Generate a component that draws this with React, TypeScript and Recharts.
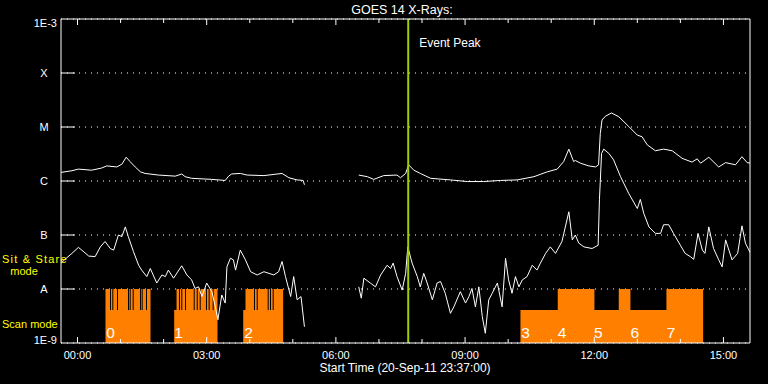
import {
  ComposedChart, Line, Area, Scatter, XAxis, YAxis,
  CartesianGrid, ReferenceLine
} from 'recharts';

const FONT = '"Liberation Sans", Arial, sans-serif';

// hours after 00:00 (21-Sep), plot starts 23:37 the day before
const xDomain = [-23 / 60, 15 + 37 / 60];

// long channel (1-8 A), log10 of flux
const longTimes = [
  -0.38, -0.13, 0.02, 0.33, 0.56, 0.68, 0.91, 1.03, 1.13, 1.22,
  1.34, 1.46, 1.57, 1.88, 2.27, 2.42, 2.50, 2.65, 3.12, 3.43,
  3.51, 3.58, 3.78, 3.94, 4.33, 4.75, 4.91, 5.10, 5.24, 5.27,
  5.9,
  6.53, 6.73, 6.88, 7.11, 7.42, 7.50, 7.62, 7.69, 7.81, 7.96,
  8.20, 8.66, 9.05, 9.43, 9.82, 10.21, 10.60, 10.91, 11.14, 11.29,
  11.41, 11.52, 11.56, 11.68, 11.87, 12.03, 12.10, 12.14, 12.18, 12.26,
  12.40, 12.57, 12.80, 13.00, 13.11, 13.23, 13.42, 13.61, 13.81, 14.04,
  14.27, 14.39, 14.47, 14.66, 14.89, 15.05, 15.28, 15.43, 15.55, 15.63,
];
const longFlux = [
  -5.84, -5.81, -5.78, -5.80, -5.76, -5.72, -5.74, -5.69, -5.56, -5.64,
  -5.74, -5.83, -5.86, -5.89, -5.91, -5.87, -5.92, -5.95, -5.97, -5.99,
  -5.91, -5.87, -5.86, -5.89, -5.90, -5.86, -5.94, -5.98, -5.99, -6.07,
  null,
  -5.89, -5.92, -5.97, -5.90, -5.89, -5.94, -5.86, -5.70, -5.80, -5.86,
  -5.95, -5.98, -6.01, -6.01, -5.99, -5.98, -5.92, -5.83, -5.78, -5.64,
  -5.41, -5.64, -5.62, -5.67, -5.72, -5.74, -5.70, -5.12, -4.87, -4.80,
  -4.74, -4.81, -4.99, -5.15, -5.18, -5.33, -5.44, -5.41, -5.44, -5.58,
  -5.65, -5.59, -5.67, -5.56, -5.74, -5.66, -5.70, -5.55, -5.66, -5.67,
];

// short channel (0.5-4 A), log10 of flux
const shortTimes = [
  -0.38, -0.29, -0.13, 0.02, 0.10, 0.26, 0.41, 0.53, 0.64, 0.76,
  0.84, 0.95, 1.03, 1.11, 1.18, 1.30, 1.42, 1.49, 1.61, 1.69,
  1.84, 1.96, 2.04, 2.11, 2.23, 2.42, 2.54, 2.65, 2.73, 2.81,
  2.89, 3.00, 3.12, 3.20, 3.26, 3.35, 3.43, 3.47, 3.55, 3.62,
  3.67, 3.78, 3.90, 4.02, 4.17, 4.33, 4.56, 4.67, 4.75, 4.83,
  4.95, 5.02, 5.10, 5.19, 5.27,
  5.9,
  6.53, 6.59, 6.65, 6.80, 6.92, 7.04, 7.19, 7.27, 7.33, 7.42,
  7.54, 7.62, 7.67, 7.77, 7.89, 7.96, 8.04, 8.12, 8.24, 8.35,
  8.43, 8.54, 8.66, 8.74, 8.89, 9.01, 9.09, 9.16, 9.24, 9.32,
  9.40, 9.47, 9.55, 9.63, 9.75, 9.86, 9.94, 10.01, 10.09, 10.17,
  10.25, 10.33, 10.44, 10.56, 10.67, 10.75, 10.87, 10.98, 11.10, 11.25,
  11.41, 11.49, 11.56, 11.64, 11.76, 11.95, 12.09, 12.12, 12.17, 12.22,
  12.34, 12.45, 12.61, 12.80, 13.00, 13.07, 13.15, 13.27, 13.42, 13.54,
  13.61, 13.73, 13.84, 14.00, 14.11, 14.23, 14.31, 14.41, 14.51, 14.57,
  14.66, 14.77, 14.89, 14.97, 15.05, 15.20, 15.33, 15.43, 15.51, 15.63,
];
const shortFlux = [
  -7.52, -7.45, -7.34, -7.23, -7.28, -7.39, -7.40, -7.22, -7.12, -7.25,
  -7.28, -7.00, -7.03, -6.85, -7.03, -7.31, -7.56, -7.65, -7.77, -7.62,
  -7.89, -7.74, -7.77, -7.65, -7.80, -7.57, -7.74, -7.83, -7.99, -7.96,
  -8.14, -7.89, -8.05, -8.33, -8.57, -8.11, -8.26, -7.59, -7.43, -7.46,
  -7.65, -7.28, -7.46, -7.68, -7.74, -7.68, -7.74, -7.68, -7.49, -7.77,
  -8.14, -7.77, -8.20, -8.14, -8.70,
  null,
  -7.96, -8.17, -7.80, -7.89, -7.96, -7.74, -7.56, -7.62, -7.52, -7.77,
  -8.02, -7.71, -7.22, -7.52, -7.77, -7.96, -7.71, -7.89, -8.20, -7.89,
  -7.86, -8.08, -8.45, -8.33, -8.05, -8.26, -8.14, -7.99, -8.33, -7.96,
  -8.51, -8.82, -8.20, -8.08, -7.89, -8.33, -7.43, -7.83, -8.08, -7.77,
  -7.96, -7.83, -7.77, -7.56, -7.65, -7.52, -7.34, -7.22, -7.34, -7.12,
  -6.57, -7.09, -7.00, -7.15, -7.22, -7.25, -7.19, -6.35, -5.49, -5.41,
  -5.49, -5.61, -5.92, -6.23, -6.51, -6.34, -6.60, -6.85, -6.97, -6.97,
  -6.81, -6.81, -6.97, -7.19, -7.34, -7.40, -7.45, -6.97, -7.28, -7.34,
  -6.85, -7.25, -7.46, -7.59, -7.09, -7.46, -7.34, -6.83, -7.15, -7.34,
];

// observing mode bars: -8 = full bar, -8.39 = low step, -9 = nothing
const modeTimes = [
  -0.3833, 0.65, 1.695, 2.245, 2.30, 3.251, 3.848, 3.901, 4.776,
  10.286, 11.152, 12.004, 12.569, 12.84, 13.676, 14.529, 15.6167,
];
const modeLevels = [
  -9, -8, -9, -8.39, -8, -9, -8.39, -8, -9,
  -8.39, -8, -8.39, -8, -8.39, -8, -9, -9,
];
const scanGapTimes = [
  0.766, 0.820, 0.929, 1.184, 1.223, 1.293, 1.463, 1.502, 1.602,
  2.368, 2.422, 2.508, 2.710, 2.780, 2.849, 2.995, 3.057, 3.150,
  4.110, 4.173, 4.428, 4.482, 4.544,
];
const scanNumberTimes = [0.766, 2.345, 3.971, 10.402, 11.25, 12.097, 12.94, 13.786];
const scanNumbers = ['0', '1', '2', '3', '4', '5', '6', '7'];

const levelTicks = [-9, -8, -7, -6, -5, -4, -3];
const levelLabels = ['1E-9', 'A', 'B', 'C', 'M', 'X', '1E-3'];
const hourTicks = [0, 1, 2, 3, 4, 5, 6, 7, 8, 9, 10, 11, 12, 13, 14, 15];
const hourLabels = ['00:00', '03:00', '06:00', '09:00', '12:00', '15:00'];

const eventPeak = 7.68;

const longData = longTimes.map((h, i) => ({ h, e: longFlux[i] }));
const shortData = shortTimes.map((h, i) => ({ h, e: shortFlux[i] }));
const modeData = modeTimes.map((h, i) => ({ h, level: modeLevels[i] }));
const scanLabelData = scanNumberTimes.map((h, i) => ({ h, y: -8.81, n: scanNumbers[i] }));

const BottomTick = ({ x, y, payload }: any) => {
  const major = payload.value % 3 === 0;
  return (
    <g>
      <line x1={x} x2={x} y1={y} y2={y - (major ? 6 : 4)} stroke="#fff" />
      {major && (
        <text x={x} y={y + 16} textAnchor="middle" fill="#fff" fontSize={11} fontFamily={FONT}>
          {hourLabels[payload.value / 3]}
        </text>
      )}
    </g>
  );
};

const TopTick = ({ x, y, payload }: any) => {
  const major = payload.value % 3 === 0;
  return <line x1={x} x2={x} y1={y} y2={y + (major ? 6 : 4)} stroke="#fff" />;
};

const LeftTick = ({ x, y, payload }: any) => {
  const v = payload.value;
  const label = levelLabels[levelTicks.indexOf(v)];
  const edge = v === -9 || v === -3;
  const dy = v === -3 ? 4 : v === -9 ? -2.5 : 0;
  return (
    <g>
      {!edge && <line x1={x} x2={x + 14} y1={y} y2={y} stroke="#fff" />}
      <text
        x={edge ? x - 4 : x - 17}
        y={y + dy}
        dy="0.36em"
        textAnchor={edge ? 'end' : 'middle'}
        fill="#fff"
        fontSize={11}
        fontFamily={FONT}
      >
        {label}
      </text>
    </g>
  );
};

const RightTick = ({ x, y, payload }: any) => {
  const v = payload.value;
  if (v === -9 || v === -3) return <g />;
  return <line x1={x} x2={x - 14} y1={y} y2={y} stroke="#fff" />;
};

const ScanNumber = (props: any) => (
  <text x={props.cx} y={props.cy} dy="0.36em" textAnchor="middle" fill="#fff" fontSize={15.5} fontFamily={FONT}>
    {props.payload.n}
  </text>
);

export default function App() {
  return (
    <div style={{ position: 'absolute', left: 0, top: 0, width: 768, height: 384, background: '#000' }}>
      <ComposedChart width={768} height={384} margin={{ top: 0, right: 0, bottom: 0, left: 0 }}>
        <CartesianGrid horizontal vertical={false} stroke="#fff" strokeDasharray="1 5" />
        <XAxis
          dataKey="h"
          type="number"
          domain={xDomain}
          allowDataOverflow
          ticks={hourTicks}
          interval={0}
          height={41}
          tickLine={false}
          tickSize={0}
          tickMargin={0}
          axisLine={{ stroke: '#fff' }}
          tick={(p: any) => <BottomTick {...p} />}
        />
        <XAxis
          xAxisId="top"
          orientation="top"
          dataKey="h"
          type="number"
          domain={xDomain}
          allowDataOverflow
          ticks={hourTicks}
          interval={0}
          height={19}
          tickLine={false}
          tickSize={0}
          tickMargin={0}
          axisLine={{ stroke: '#fff' }}
          tick={(p: any) => <TopTick {...p} />}
        />
        <YAxis
          type="number"
          domain={[-9, -3]}
          ticks={levelTicks}
          interval={0}
          width={61}
          tickLine={false}
          tickSize={0}
          tickMargin={0}
          axisLine={{ stroke: '#fff' }}
          tick={(p: any) => <LeftTick {...p} />}
        />
        <YAxis
          yAxisId="right"
          orientation="right"
          type="number"
          domain={[-9, -3]}
          ticks={levelTicks}
          interval={0}
          width={18}
          tickLine={false}
          tickSize={0}
          tickMargin={0}
          axisLine={{ stroke: '#fff' }}
          tick={(p: any) => <RightTick {...p} />}
        />
        <Area
          data={modeData}
          dataKey="level"
          type="stepAfter"
          baseValue={-9}
          fill="#ff8000"
          fillOpacity={1}
          stroke="none"
          isAnimationActive={false}
        />
        {scanGapTimes.map((g) => (
          <ReferenceLine
            key={g}
            segment={[{ x: g, y: -8 }, { x: g, y: -8.39 }]}
            stroke="#000"
            strokeWidth={1}
          />
        ))}
        <Scatter data={scanLabelData} dataKey="y" shape={ScanNumber} isAnimationActive={false} />
        <Line
          data={longData}
          dataKey="e"
          type="linear"
          stroke="#fff"
          strokeWidth={1}
          dot={false}
          connectNulls={false}
          isAnimationActive={false}
        />
        <Line
          data={shortData}
          dataKey="e"
          type="linear"
          stroke="#fff"
          strokeWidth={1}
          dot={false}
          connectNulls={false}
          isAnimationActive={false}
        />
        <ReferenceLine
          x={eventPeak}
          stroke="#9ccf00"
          strokeWidth={2}
          label={(p: any) => (
            <text x={p.viewBox.x + 11} y={p.viewBox.y + 28} fill="#fff" fontSize={12} fontFamily={FONT}>
              Event Peak
            </text>
          )}
        />
      </ComposedChart>
      <svg width={768} height={384} style={{ position: 'absolute', left: 0, top: 0, pointerEvents: 'none' }}>
        <text x={402} y={14} textAnchor="middle" fill="#fff" fontSize={12.5} fontFamily={FONT}>
          GOES 14 X-Rays:
        </text>
        <text x={405} y={372} textAnchor="middle" fill="#fff" fontSize={12} fontFamily={FONT}>
          Start Time (20-Sep-11 23:37:00)
        </text>
        <text x={2} y={263} fill="#ffff00" fontSize={11} letterSpacing={1.2} fontFamily={FONT}>
          Sit &amp; Stare
        </text>
        <text x={24} y={275} textAnchor="middle" fill="#ffff00" fontSize={11} fontFamily={FONT}>
          mode
        </text>
        <text x={2} y={328} fill="#ffff00" fontSize={11} fontFamily={FONT}>
          Scan mode
        </text>
      </svg>
    </div>
  );
}
